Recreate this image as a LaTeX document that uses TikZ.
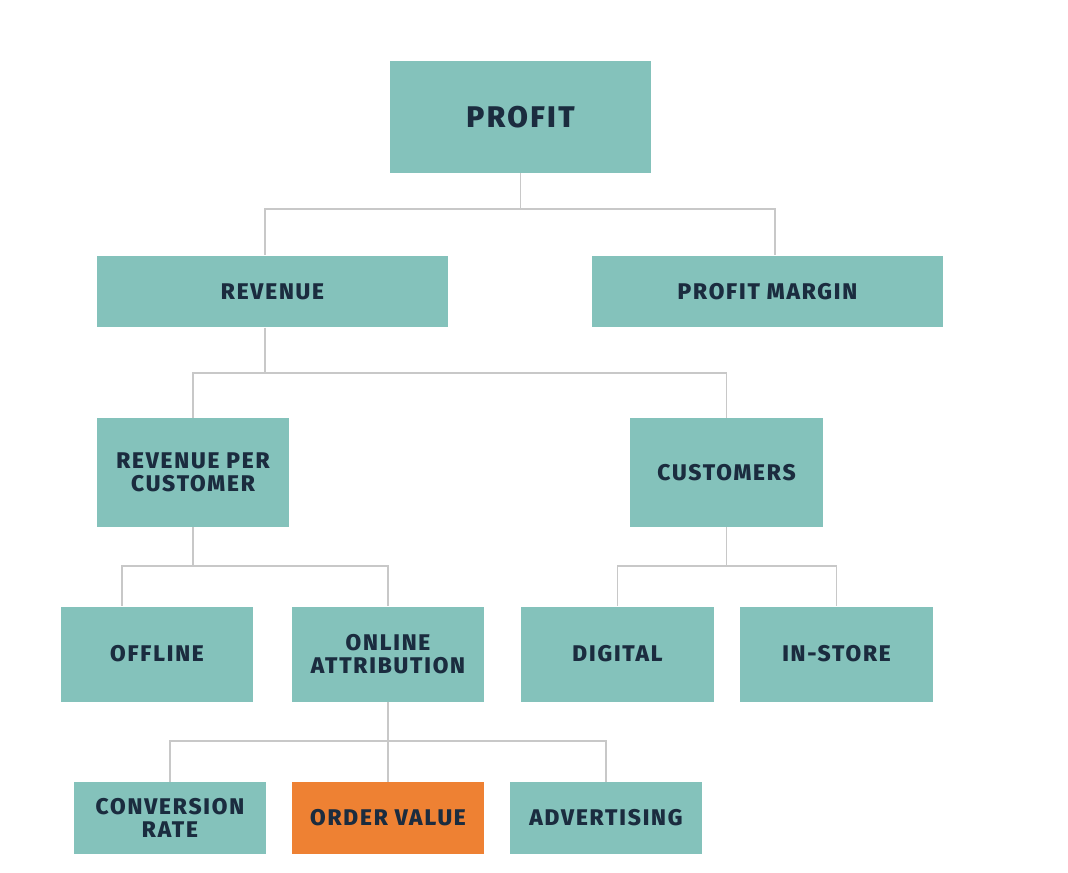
\documentclass[tikz,border=0pt]{standalone}
\usepackage{fontspec}
\newfontfamily\boxfont[LetterSpace=8,BoldFont={Fira Sans ExtraBold}]{Fira Sans}
\definecolor{boxteal}{RGB}{132,194,187}
\definecolor{boxorange}{RGB}{238,129,51}
\definecolor{boxtext}{RGB}{27,44,63}
\definecolor{linegray}{RGB}{200,200,200}

\begin{document}
\begin{tikzpicture}[x=0.02cm,y=-0.02cm,
  box/.style={fill=boxteal,inner sep=0pt,align=center,text=boxtext,
    minimum width=3.86cm,font=\boxfont\bfseries\fontsize{12.9}{12.8}\selectfont},
  link/.style={draw=linegray,line width=1.1pt}]
\useasboundingbox (0,0) rectangle (1068,872);

% top two levels
\node[box,minimum width=5.22cm,minimum height=2.24cm,
  font=\boxfont\bfseries\fontsize{17}{18}\selectfont] (profit) at (520.5,117) {PROFIT};
\node[box,minimum width=7.04cm,minimum height=1.44cm] (revenue) at (272.5,291.5) {REVENUE};
\node[box,minimum width=7.04cm,minimum height=1.44cm] (margin) at (767.5,291.5) {PROFIT MARGIN};

% third level
\node[box,minimum height=2.18cm] (rpc) at (193,472.5) {REVENUE PER\\CUSTOMER};
\node[box,minimum height=2.18cm] (customers) at (726.5,472.5) {CUSTOMERS};

% fourth level
\node[box,minimum height=1.9cm] (offline) at (157,654) {OFFLINE};
\node[box,minimum height=1.9cm] (online) at (388,654) {ONLINE\\ATTRIBUTION};
\node[box,minimum height=1.9cm] (digital) at (617.5,654) {DIGITAL};
\node[box,minimum height=1.9cm] (instore) at (836.5,654) {IN-STORE};

% bottom level
\node[box,minimum height=1.44cm] (conversion) at (170,818) {CONVERSION\\RATE};
\node[box,minimum height=1.44cm,fill=boxorange] (ordervalue) at (388,818) {ORDER VALUE};
\node[box,minimum height=1.44cm] (advertising) at (606,818) {ADVERTISING};

% connectors
\foreach \kid/\dx in {revenue/-0.15cm,margin/0.15cm}
  \draw[link] (profit.south) -- ++(0,36) -| ([xshift=\dx]\kid.north);
\foreach \kid in {rpc,customers}
  \draw[link] ([xshift=-0.15cm]revenue.south) -- ++(0,45.5) -| (\kid.north);
\foreach \kid/\dx in {offline/-0.7cm,online/0cm}
  \draw[link] (rpc.south) -- ++(0,39) -| ([xshift=\dx]\kid.north);
\foreach \kid in {digital,instore}
  \draw[link] (customers.south) -- ++(0,39) -| (\kid.north);
\foreach \kid in {conversion,ordervalue,advertising}
  \draw[link] (online.south) -- ++(0,39.5) -| (\kid.north);

\end{tikzpicture}
\end{document}
